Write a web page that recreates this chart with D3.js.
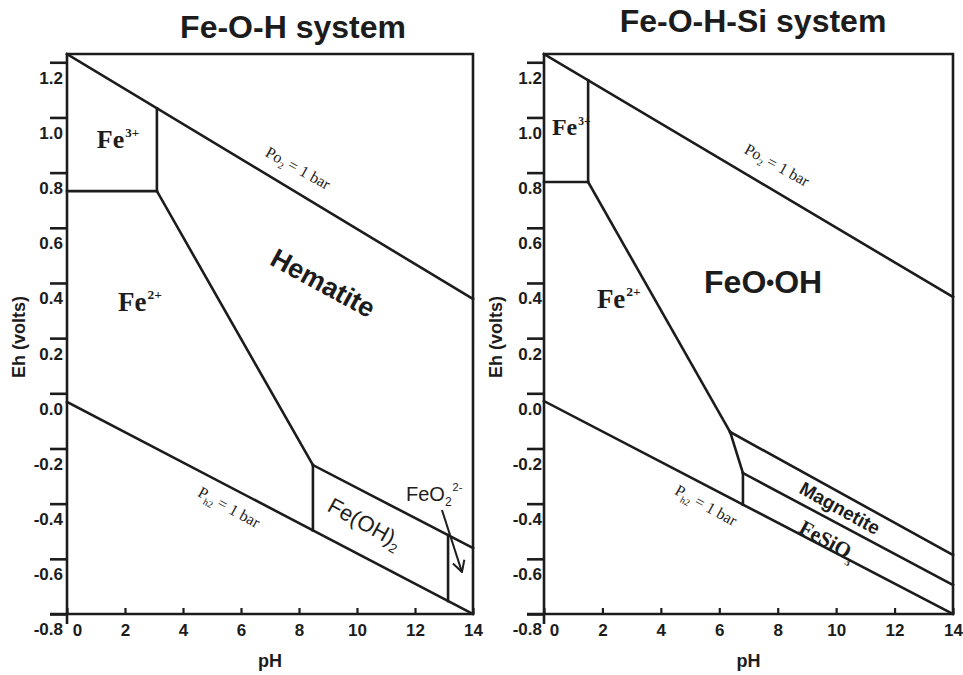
<!DOCTYPE html>
<html>
<head>
<meta charset="utf-8">
<title>Eh-pH diagrams: Fe-O-H and Fe-O-H-Si systems</title>
<script src="https://cdn.jsdelivr.net/npm/d3@7"></script>
<style>
  html, body { margin: 0; padding: 0; background: #ffffff; }
  svg { display: block; }
</style>
</head>
<body>
<svg id="chart" width="963" height="675"></svg>
<script>
// ---- axes ----
const phDomain = [0, 14];
const ehDomain = [-0.8, 1.23];
const phTicks = [0, 2, 4, 6, 8, 10, 12, 14];
const phTickLabels = ["0", "2", "4", "6", "8", "10", "12", "14"];
const ehTicks = [1.2, 1.0, 0.8, 0.6, 0.4, 0.2, 0.0, -0.2, -0.4, -0.6, -0.8];
const ehTickLabels = ["1.2", "1.0", "0.8", "0.6", "0.4", "0.2", "0.0", "-0.2", "-0.4", "-0.6", "-0.8"];

// ---- Fe-O-H system: stability field boundaries [pH, Eh] ----
const fohO2 = [[0, 1.23], [14, 0.342]];
const fohH2 = [[0, -0.031], [14, -0.80]];
const fohFe3Fe2 = [[0, 0.733], [3.1, 0.733]];
const fohFe3Hematite = [[3.1, 0.733], [3.1, 1.033]];
const fohFe2Hematite = [[3.1, 0.733], [8.48, -0.260]];
const fohFe2FeOH2 = [[8.48, -0.260], [8.48, -0.497]];
const fohHematiteFeOH2 = [[8.48, -0.260], [14, -0.561]];
const fohFeOH2FeO2 = [[13.14, -0.514], [13.14, -0.753]];
const fohFeO2Arrow = [[12.93, -0.423], [13.62, -0.648]];

// ---- Fe-O-H-Si system: stability field boundaries [pH, Eh] ----
const fohsO2 = [[0, 1.23], [14, 0.349]];
const fohsH2 = [[0, -0.028], [14, -0.80]];
const fohsFe3Fe2 = [[0, 0.766], [1.51, 0.766]];
const fohsFe3Goethite = [[1.51, 0.766], [1.51, 1.135]];
const fohsFe2Goethite = [[1.51, 0.766], [6.37, -0.140]];
const fohsFe2Magnetite = [[6.37, -0.140], [6.81, -0.289]];
const fohsFe2FeSiO3 = [[6.81, -0.289], [6.81, -0.404]];
const fohsGoethiteMagnetite = [[6.37, -0.140], [14, -0.586]];
const fohsMagnetiteFeSiO3 = [[6.81, -0.289], [14, -0.695]];

const ink = "#1c1c1c";
const sans = "'Liberation Sans', Arial, Helvetica, sans-serif";
const serif = "'Liberation Serif', 'Times New Roman', serif";

const svg = d3.select("#chart");
svg.append("rect").attr("width", 963).attr("height", 675).attr("fill", "#ffffff");

svg.append("defs").append("marker")
  .attr("id", "arrowhead")
  .attr("viewBox", "0 -7 13 14")
  .attr("refX", 12).attr("refY", 0)
  .attr("markerWidth", 13).attr("markerHeight", 14)
  .attr("markerUnits", "userSpaceOnUse")
  .attr("orient", "auto")
  .append("path")
  .attr("d", "M1,-6L12,0L1,6")
  .attr("fill", "none").attr("stroke", ink).attr("stroke-width", 2);

// Writes a run of text pieces with optional super/subscripts into a <text>.
function richText(sel, parts, size) {
  let shift = 0;
  parts.forEach(p => {
    const fs = p.scale ? size * p.scale : size;
    const target = p.sup ? -size * (p.rise || 0.42) : p.sub ? size * (p.drop || 0.22) : 0;
    const ts = sel.append("tspan").text(p.t).attr("font-size", fs).attr("dy", target - shift);
    if (p.dx) ts.attr("dx", p.dx);
    shift = target;
  });
  return sel;
}

function drawPanel(o) {
  const x = d3.scaleLinear().domain(phDomain).range([o.left, o.right]);
  const y = d3.scaleLinear().domain(ehDomain).range([o.bottom, o.top]);
  const g = svg.append("g");

  // y axis: long outward ticks, labels sitting just below each tick
  const ya = g.append("g")
    .attr("transform", `translate(${o.left},0)`)
    .call(d3.axisLeft(y).tickValues(ehTicks).tickSize(17)
      .tickFormat((d, i) => ehTickLabels[i]));
  ya.select(".domain").remove();
  ya.selectAll(".tick line").attr("stroke", ink).attr("stroke-width", 2.6);
  ya.selectAll(".tick text")
    .attr("x", -o.yLabelGap).attr("y", 15).attr("dy", "0.35em")
    .attr("fill", ink).style("font-family", sans).style("font-size", "17px").style("font-weight", "bold");

  // x axis: short inward ticks
  const xa = g.append("g")
    .attr("transform", `translate(0,${o.bottom})`)
    .call(d3.axisBottom(x).tickValues(phTicks).tickSizeInner(-6).tickSizeOuter(0)
      .tickFormat((d, i) => phTickLabels[i]));
  xa.select(".domain").remove();
  xa.selectAll(".tick line").attr("stroke", ink).attr("stroke-width", 2.2);
  xa.selectAll(".tick text")
    .attr("y", 22).attr("dy", 0)
    .attr("x", d => d === 0 ? 10 : 0)
    .attr("fill", ink).style("font-family", sans).style("font-size", "17px").style("font-weight", "bold");

  // frame
  g.append("path")
    .attr("d", `M${o.left},${o.bottom + 10}L${o.left},${o.top}L${o.right},${o.top}L${o.right},${o.bottom}L${o.left - 17},${o.bottom}`)
    .attr("fill", "none").attr("stroke", ink).attr("stroke-width", 2.6);

  // axis titles
  g.append("text")
    .attr("x", (o.left + o.right) / 2).attr("y", 667)
    .attr("text-anchor", "middle").attr("fill", ink)
    .style("font-family", sans).style("font-size", "18px").style("font-weight", "bold")
    .text("pH");
  g.append("text")
    .attr("transform", `translate(${o.left - 48},${337}) rotate(-90)`)
    .attr("text-anchor", "middle").attr("dy", "0.35em").attr("fill", ink)
    .style("font-family", sans).style("font-size", "18px").style("font-weight", "bold")
    .text("Eh (volts)");

  // panel title
  g.append("text")
    .attr("x", o.titleX).attr("y", o.titleY)
    .attr("text-anchor", "middle").attr("fill", ink)
    .style("font-family", sans).style("font-size", "32px").style("font-weight", "bold")
    .text(o.title);

  // boundaries
  const line = d3.line().x(d => x(d[0])).y(d => y(d[1]));
  o.boundaries.forEach(b => {
    g.append("path").attr("d", line(b))
      .attr("fill", "none").attr("stroke", ink).attr("stroke-width", 2.6)
      .attr("stroke-linecap", "square");
  });
  if (o.arrow) {
    g.append("path").attr("d", line(o.arrow))
      .attr("fill", "none").attr("stroke", ink).attr("stroke-width", 2)
      .attr("marker-end", "url(#arrowhead)");
  }

  // field labels
  o.labels.forEach(l => {
    const t = g.append("text").attr("fill", ink)
      .style("font-family", l.font === "serif" ? serif : sans)
      .style("font-weight", l.bold ? "bold" : "normal")
      .attr("font-size", l.size);
    if (l.angle !== undefined) {
      t.attr("transform", `translate(${x(l.at[0])},${y(l.at[1])}) rotate(${l.angle})`)
        .attr("text-anchor", "middle").attr("y", l.size * 0.35);
    } else {
      t.attr("x", x(l.at[0])).attr("y", y(l.at[1]))
        .attr("text-anchor", l.anchor || "start");
    }
    richText(t, l.parts, l.size);
  });
}

drawPanel({
  title: "Fe-O-H system", titleX: 293, titleY: 38,
  left: 67, right: 473, top: 54, bottom: 614, yLabelGap: 4,
  boundaries: [fohO2, fohH2, fohFe3Fe2, fohFe3Hematite, fohFe2Hematite,
               fohFe2FeOH2, fohHematiteFeOH2, fohFeOH2FeO2],
  arrow: fohFeO2Arrow,
  labels: [
    { at: [1.03, 0.889], size: 26, font: "serif", bold: true,
      parts: [{ t: "Fe" }, { t: "3+", sup: true, scale: 0.5, rise: 0.42, dx: 1 }] },
    { at: [1.76, 0.298], size: 27, font: "serif", bold: true,
      parts: [{ t: "Fe" }, { t: "2+", sup: true, scale: 0.5, rise: 0.45, dx: 1 }] },
    { at: [8.83, 0.400], size: 27, bold: true, angle: 28.5,
      parts: [{ t: "Hematite" }] },
    { at: [10.28, -0.470], size: 22, angle: 29,
      parts: [{ t: "Fe(OH)" }, { t: "2", sub: true, scale: 0.6, drop: 0.25 }] },
    { at: [11.69, -0.390], size: 20,
      parts: [{ t: "FeO" }, { t: "2", sub: true, scale: 0.6, drop: 0.25 },
              { t: "2-", sup: true, scale: 0.55, rise: 0.5, dx: 1 }] },
    { at: [7.97, 0.817], size: 16, font: "serif", angle: 29,
      parts: [{ t: "Po" }, { t: "2", sub: true, scale: 0.6, drop: 0.25 }, { t: " = 1 bar" }] },
    { at: [5.59, -0.412], size: 16, font: "serif", angle: 29,
      parts: [{ t: "P" }, { t: "h2", sub: true, scale: 0.6, drop: 0.28 }, { t: " = 1 bar" }] }
  ]
});

drawPanel({
  title: "Fe-O-H-Si system", titleX: 753, titleY: 32,
  left: 544, right: 953, top: 54, bottom: 614, yLabelGap: 2,
  boundaries: [fohsO2, fohsH2, fohsFe3Fe2, fohsFe3Goethite, fohsFe2Goethite,
               fohsFe2Magnetite, fohsFe2FeSiO3, fohsGoethiteMagnetite, fohsMagnetiteFeSiO3],
  labels: [
    { at: [0.27, 0.936], size: 24, font: "serif", bold: true,
      parts: [{ t: "Fe" }, { t: "3+", sup: true, scale: 0.48, rise: 0.42, dx: 1 }] },
    { at: [1.81, 0.309], size: 27, font: "serif", bold: true,
      parts: [{ t: "Fe" }, { t: "2+", sup: true, scale: 0.5, rise: 0.45, dx: 1 }] },
    { at: [7.50, 0.364], size: 32, bold: true, anchor: "middle",
      parts: [{ t: "FeO" }, { t: "\u2022", scale: 0.7, sup: true, rise: 0.08 }, { t: "OH" }] },
    { at: [10.13, -0.416], size: 19, bold: true, angle: 29,
      parts: [{ t: "Magnetite" }] },
    { at: [9.72, -0.532], size: 21, font: "serif", bold: true, angle: 29,
      parts: [{ t: "FeSiO" }, { t: "3", sub: true, scale: 0.5, drop: 0.28 }] },
    { at: [7.98, 0.828], size: 16, font: "serif", angle: 29,
      parts: [{ t: "Po" }, { t: "2", sub: true, scale: 0.6, drop: 0.25 }, { t: " = 1 bar" }] },
    { at: [5.55, -0.405], size: 16, font: "serif", angle: 29,
      parts: [{ t: "P" }, { t: "h2", sub: true, scale: 0.6, drop: 0.28 }, { t: " = 1 bar" }] }
  ]
});
</script>
</body>
</html>
